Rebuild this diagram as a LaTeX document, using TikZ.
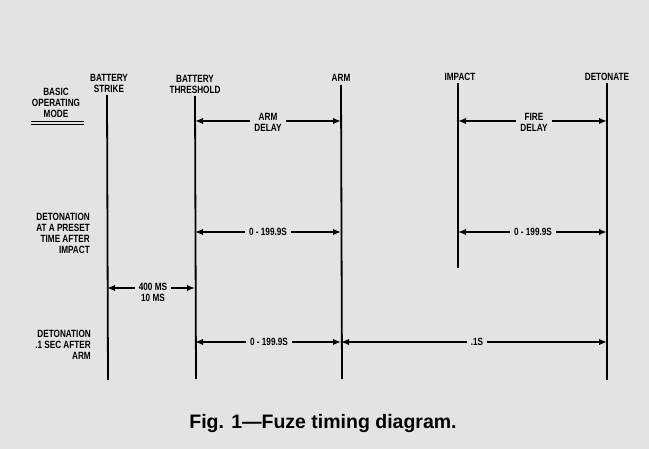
\documentclass[tikz,border=0pt]{standalone}
\usepackage{fontspec}
\setmainfont{Liberation Sans}
\newfontfamily\lblfont{Liberation Sans}[FakeStretch=0.78]
\usetikzlibrary{arrows.meta}

\tikzset{
  lbl/.style={font=\lblfont\bfseries\fontsize{10.5}{11}\selectfont, align=center, inner sep=1pt},
  gap/.style={lbl, inner xsep=4pt},
  timeline/.style={line width=1.8pt},
  dim/.style={line width=1.6pt, -{Latex[length=8pt,width=6.5pt]}}
}

\begin{document}
\begin{tikzpicture}[x=1pt, y=-1pt]
  \useasboundingbox[fill=black!11] (0,0) rectangle (649,449);
  % points on the time lines, one per row
  \foreach \n/\x in {strike/107,thr/195,arm/341,imp/458,det/607}
    \foreach \r/\y in {1/121,2/232,3/288,4/342}
      \coordinate (\n-\r) at (\x,\y);
  % heads
  \node[lbl] (mode) at (56,103) {BASIC\\OPERATING\\MODE};
  \draw[line width=1.2pt] (31,121.5) -- (84,121.5);
  \draw[line width=1.2pt] (31,124.8) -- (84,124.8);
  \node[lbl] (strike) at (109,83) {BATTERY\\STRIKE};
  \node[lbl] (thr) at (195,84) {BATTERY\\THRESHOLD};
  \node[lbl] (arm) at (341,78) {ARM};
  \node[lbl] (imp) at (460,77) {IMPACT};
  \node[lbl] (det) at (607,77) {DETONATE};
  % time lines
  \draw[timeline] (107,95) -- (108,380);
  \draw[timeline] (195,96) -- (196,379);
  \draw[timeline] (341,85) -- (342,379);
  \draw[timeline] (458,83) -- (458,268);
  \draw[timeline] (607,83) -- (607,380);
  % row 1
  \node[gap] (armdelay) at (268,122) {ARM\\DELAY};
  \draw[dim] (armdelay.west |- thr-1) -- (thr-1);
  \draw[dim] (armdelay.east |- arm-1) -- (arm-1);
  \node[gap] (firedelay) at (534,122) {FIRE\\DELAY};
  \draw[dim] (firedelay.west |- imp-1) -- (imp-1);
  \draw[dim] (firedelay.east |- det-1) -- (det-1);
  % row 2
  \node[lbl, align=right, anchor=east] (preset) at (91,233.5)
    {DETONATION\\AT A PRESET\\TIME AFTER\\IMPACT};
  \node[gap] (armrange) at (268,232) {0 - 199.9S};
  \draw[dim] (armrange) -- (thr-2);
  \draw[dim] (armrange) -- (arm-2);
  \node[gap] (firerange) at (533,232) {0 - 199.9S};
  \draw[dim] (firerange) -- (imp-2);
  \draw[dim] (firerange) -- (det-2);
  % row 3
  \node[gap] (battime) at (153,292) {400 MS\\10 MS};
  \draw[dim] (battime.west |- strike-3) -- (strike-3);
  \draw[dim] (battime.east |- thr-3) -- (thr-3);
  % row 4
  \node[lbl, align=right, anchor=east] (afterarm) at (92,344.5)
    {DETONATION\\.1 SEC AFTER\\ARM};
  \node[gap] (armrange2) at (269,342) {0 - 199.9S};
  \draw[dim] (armrange2) -- (thr-4);
  \draw[dim] (armrange2) -- (arm-4);
  \node[lbl, inner xsep=3.5pt] (tenth) at (477,342) {.1S};
  \draw[dim] (tenth) -- (arm-4);
  \draw[dim] (tenth) -- (det-4);
  % caption
  \node[font=\bfseries\fontsize{19.5}{22}\selectfont, anchor=base] (caption) at (323,429)
    {Fig. 1---Fuze timing diagram.};
\end{tikzpicture}
\end{document}
